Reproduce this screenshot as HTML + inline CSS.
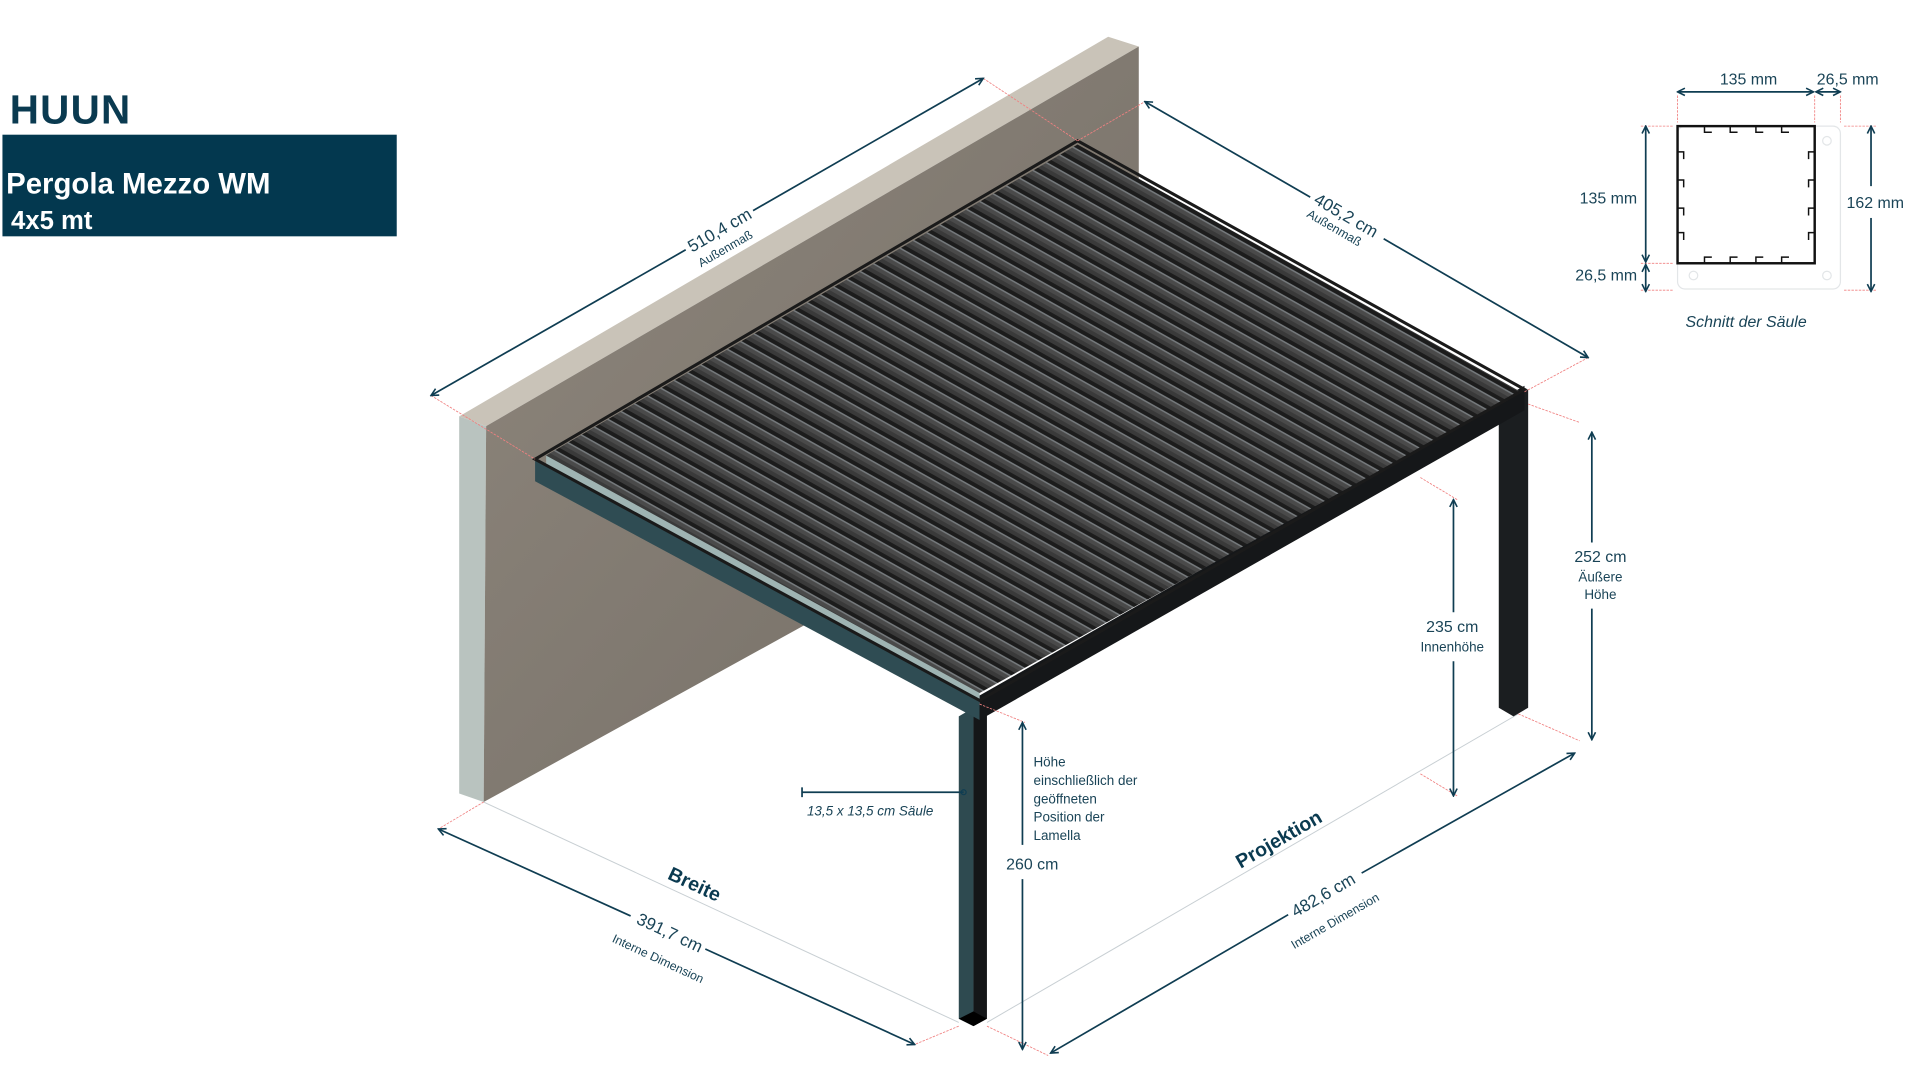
<!DOCTYPE html>
<html><head><meta charset="utf-8"><style>
html,body{margin:0;padding:0;background:#fff;width:1920px;height:1080px;overflow:hidden}
svg{display:block}
text{font-family:"Liberation Sans",sans-serif;fill:#1a4457}
</style></head><body>
<svg width="1920" height="1080" viewBox="0 0 1568 882" preserveAspectRatio="none" xmlns="http://www.w3.org/2000/svg">
<defs>
<marker id="a" markerWidth="8" markerHeight="8" refX="7" refY="4" orient="auto-start-reverse" markerUnits="userSpaceOnUse"><path d="M1,1 L7,4 L1,7" fill="none" stroke="#0f3d52" stroke-width="1.3"/></marker>
<linearGradient id="w" x1="0" y1="0" x2="1" y2="1"><stop offset="0" stop-color="#8f877d"/><stop offset="0.5" stop-color="#817a71"/><stop offset="1" stop-color="#736c64"/></linearGradient>
<pattern id="lp" patternUnits="userSpaceOnUse" width="200" height="10.85" patternTransform="translate(446,372) rotate(29.3)">
<rect width="200" height="10.85" fill="#3a3a3a"/>
<rect y="0" width="200" height="3.2" fill="#1c1c1c"/>
<rect y="3.2" width="200" height="1.4" fill="#75797c"/>
<rect y="4.6" width="200" height="3" fill="#4a4a4a"/>
</pattern>
</defs>
<!-- header -->
<text x="8" y="101" style="font-size:33px;font-weight:bold;fill:#0a3a50;letter-spacing:1px">HUUN</text>
<rect x="2" y="110" width="322" height="83" fill="#03384f"/>
<text x="5" y="158" style="font-size:24px;font-weight:bold;fill:#fff">Pergola Mezzo  WM</text>
<text x="9" y="187" style="font-size:21px;font-weight:bold;fill:#fff">4x5 mt</text>

<!-- wall -->
<polygon points="375,340 397,348 395,655 375,648" fill="#b9c3bf"/>
<polygon points="375,340 905,30 930,38 397,348" fill="#c9c3b8"/>
<polygon points="397,348 930,38 930,360 395,655" fill="url(#w)"/>

<!-- floor guide lines -->
<line x1="395" y1="655" x2="783" y2="835" stroke="#c8cfd3" stroke-width="0.8"/>
<line x1="806" y1="835" x2="1240" y2="583" stroke="#c8cfd3" stroke-width="0.8"/>

<!-- posts -->
<polygon points="1224,330 1238,322 1248,318 1248,578 1236,585 1224,578" fill="#1b1e20"/>
<polygon points="783,585 795,578 795,838 783,832" fill="#2e4a50"/>
<polygon points="795,578 806,572 806,832 795,838" fill="#141618"/>
<polygon points="783,832 795,838 806,832 795,826" fill="#000"/>

<!-- beams -->
<polygon points="437,375 800,568 800,588 437,393" fill="#2f4c53"/>
<polygon points="446,372 800,560 800,572 446,381" fill="#9fb4b3"/>
<polygon points="800,568 1245,315 1245,335 800,588" fill="#151719"/>
<!-- roof -->
<polygon points="446,372 880,118 1242,320 800,566" fill="url(#lp)"/>
<polygon points="437,375 880,115 1245,318 800,572" fill="none" stroke="#1a1a1a" stroke-width="2.5"/>

<!-- red extension lines -->
<g stroke="#f08080" stroke-width="0.7" stroke-dasharray="2,1">
<line x1="352" y1="323" x2="437" y2="375"/><line x1="803" y1="64" x2="880" y2="115"/>
<line x1="880" y1="115" x2="935" y2="83"/><line x1="1245" y1="320" x2="1297" y2="292"/>
<line x1="1248" y1="330" x2="1290" y2="345"/><line x1="1240" y1="583" x2="1290" y2="605"/>
<line x1="1160" y1="390" x2="1190" y2="408"/><line x1="1160" y1="632" x2="1190" y2="650"/>
<line x1="800" y1="575" x2="837" y2="590"/><line x1="806" y1="838" x2="856" y2="862"/>
<line x1="783" y1="838" x2="747" y2="853"/><line x1="395" y1="655" x2="358" y2="677"/>
</g>

<!-- dimension lines -->
<g stroke="#0f3d52" stroke-width="1.4" fill="none">
<line x1="352" y1="323" x2="560" y2="204" marker-start="url(#a)"/>
<line x1="615" y1="172" x2="803" y2="64" marker-end="url(#a)"/>
<line x1="935" y1="83" x2="1070" y2="161" marker-start="url(#a)"/>
<line x1="1130" y1="195" x2="1297" y2="292" marker-end="url(#a)"/>
<line x1="1300" y1="353" x2="1300" y2="443" marker-start="url(#a)"/>
<line x1="1300" y1="497" x2="1300" y2="604" marker-end="url(#a)"/>
<line x1="1187" y1="408" x2="1187" y2="500" marker-start="url(#a)"/>
<line x1="1187" y1="540" x2="1187" y2="650" marker-end="url(#a)"/>
<line x1="835" y1="590" x2="835" y2="690" marker-start="url(#a)"/>
<line x1="835" y1="718" x2="835" y2="857" marker-end="url(#a)"/>
<line x1="358" y1="677" x2="515" y2="748" marker-start="url(#a)"/>
<line x1="576" y1="775" x2="747" y2="853" marker-end="url(#a)"/>
<line x1="858" y1="860" x2="1052" y2="747" marker-start="url(#a)"/>
<line x1="1112" y1="713" x2="1286" y2="615" marker-end="url(#a)"/>
<line x1="655" y1="647" x2="787" y2="647"/>
<line x1="655" y1="643" x2="655" y2="651"/>
</g>
<circle cx="787" cy="647" r="2" fill="none" stroke="#0f3d52" stroke-width="1"/>

<!-- dimension labels -->
<text transform="translate(590,192) rotate(-30)" text-anchor="middle" style="font-size:14px">510,4 cm</text>
<text transform="translate(594,206) rotate(-30)" text-anchor="middle" style="font-size:10px">Außenmaß</text>
<text transform="translate(1097,180) rotate(30)" text-anchor="middle" style="font-size:14px">405,2 cm</text>
<text transform="translate(1088,189) rotate(30)" text-anchor="middle" style="font-size:10px">Außenmaß</text>
<text x="1307" y="459" text-anchor="middle" style="font-size:13px">252 cm</text>
<text x="1307" y="475" text-anchor="middle" style="font-size:11px">Äußere</text>
<text x="1307" y="489" text-anchor="middle" style="font-size:11px">Höhe</text>
<text x="1186" y="516" text-anchor="middle" style="font-size:13px">235 cm</text>
<text x="1186" y="532" text-anchor="middle" style="font-size:11px">Innenhöhe</text>
<text x="843" y="710" text-anchor="middle" style="font-size:13px">260 cm</text>
<g style="font-size:11px"><text x="844" y="626">Höhe</text><text x="844" y="641">einschließlich der</text><text x="844" y="656">geöffneten</text><text x="844" y="671">Position der</text><text x="844" y="686">Lamella</text></g>
<text x="659" y="666" style="font-size:11px;font-style:italic">13,5 x 13,5 cm Säule</text>
<text transform="translate(565,727) rotate(25)" text-anchor="middle" style="font-size:16px;font-weight:bold;fill:#0a3a50">Breite</text>
<text transform="translate(545,766) rotate(25)" text-anchor="middle" style="font-size:14px">391,7 cm</text>
<text transform="translate(536,786) rotate(25)" text-anchor="middle" style="font-size:10px">Interne Dimension</text>
<text transform="translate(1047,690) rotate(-30)" text-anchor="middle" style="font-size:16px;font-weight:bold;fill:#0a3a50">Projektion</text>
<text transform="translate(1083,735) rotate(-30)" text-anchor="middle" style="font-size:14px">482,6 cm</text>
<text transform="translate(1092,755) rotate(-30)" text-anchor="middle" style="font-size:10px">Interne Dimension</text>

<!-- column section -->
<rect x="1370" y="103" width="133" height="133" rx="6" fill="#fff" stroke="#e3e6e8" stroke-width="1"/>
<circle cx="1492" cy="115" r="3.5" fill="none" stroke="#e3e6e8"/>
<circle cx="1383" cy="225" r="3.5" fill="none" stroke="#e3e6e8"/>
<circle cx="1492" cy="225" r="3.5" fill="none" stroke="#e3e6e8"/>
<rect x="1370" y="103" width="112" height="112" fill="none" stroke="#111" stroke-width="2"/>
<g stroke="#111" stroke-width="1.2" fill="none">
<path d="M1392,103 v5 h6 M1413,103 v5 h6 M1434,103 v5 h6 M1455,103 v5 h6 M1392,215 v-5 h6 M1413,215 v-5 h6 M1434,215 v-5 h6 M1455,215 v-5 h6 M1370,124 h5 v6 M1370,147 h5 v6 M1370,170 h5 v6 M1370,190 h5 v6 M1482,124 h-5 v6 M1482,147 h-5 v6 M1482,170 h-5 v6 M1482,190 h-5 v6"/>
</g>
<g stroke="#f08080" stroke-width="0.7" stroke-dasharray="2,1">
<line x1="1370" y1="78" x2="1370" y2="100"/><line x1="1482" y1="78" x2="1482" y2="100"/><line x1="1503" y1="78" x2="1503" y2="100"/>
<line x1="1340" y1="103" x2="1367" y2="103"/><line x1="1340" y1="215" x2="1367" y2="215"/><line x1="1340" y1="237" x2="1367" y2="237"/>
<line x1="1506" y1="103" x2="1532" y2="103"/><line x1="1506" y1="237" x2="1532" y2="237"/>
</g>
<g stroke="#0f3d52" stroke-width="1.4" fill="none">
<line x1="1370" y1="75" x2="1481" y2="75" marker-start="url(#a)" marker-end="url(#a)"/>
<line x1="1483" y1="75" x2="1503" y2="75" marker-start="url(#a)" marker-end="url(#a)"/>
<line x1="1344" y1="103" x2="1344" y2="214" marker-start="url(#a)" marker-end="url(#a)"/>
<line x1="1344" y1="216" x2="1344" y2="238" marker-start="url(#a)" marker-end="url(#a)"/>
<line x1="1528" y1="103" x2="1528" y2="152" marker-start="url(#a)"/>
<line x1="1528" y1="178" x2="1528" y2="238" marker-end="url(#a)"/>
</g>
<g style="font-size:13px">
<text x="1428" y="69" text-anchor="middle">135 mm</text>
<text x="1509" y="69" text-anchor="middle">26,5 mm</text>
<text x="1337" y="166" text-anchor="end">135 mm</text>
<text x="1337" y="229" text-anchor="end">26,5 mm</text>
<text x="1508" y="170">162 mm</text>
</g>
<text x="1426" y="267" text-anchor="middle" style="font-size:13px;font-style:italic">Schnitt der Säule</text>
</svg>
</body></html>
